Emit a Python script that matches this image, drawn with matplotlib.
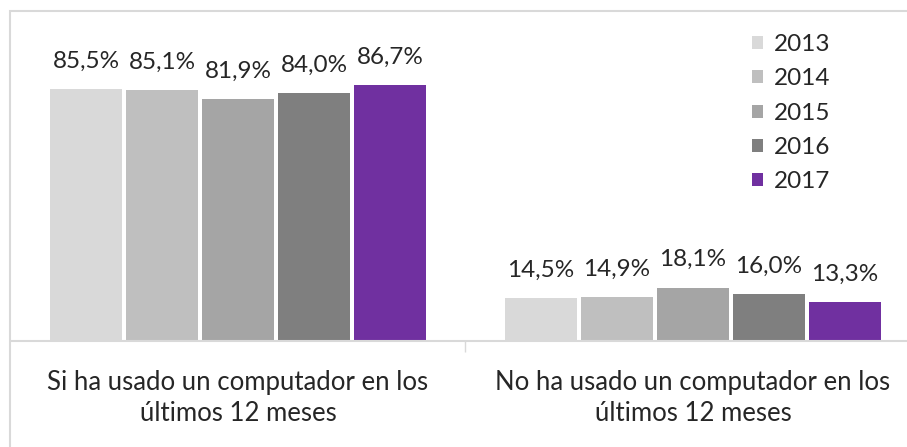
import matplotlib
matplotlib.use("Agg")
import matplotlib.pyplot as plt
from matplotlib.patches import Rectangle
import numpy as np

plt.rcParams['font.family'] = ['Lato', 'DejaVu Sans']

categories = ["Si ha usado un computador en los\núltimos 12 meses",
              "No ha usado un computador en los\núltimos 12 meses"]
years = ["2013", "2014", "2015", "2016", "2017"]
values = {
    "2013": [85.5, 14.5],
    "2014": [85.1, 14.9],
    "2015": [81.9, 18.1],
    "2016": [84.0, 16.0],
    "2017": [86.7, 13.3],
}
labels = {
    "2013": ["85,5%", "14,5%"],
    "2014": ["85,1%", "14,9%"],
    "2015": ["81,9%", "18,1%"],
    "2016": ["84,0%", "16,0%"],
    "2017": ["86,7%", "13,3%"],
}
colors = ["#d9d9d9", "#bfbfbf", "#a5a5a5", "#7f7f7f", "#7030a0"]

W, H = 907, 447
fig = plt.figure(figsize=(W / 100, H / 100), dpi=100)

# outer chart border (cropped at right/bottom)
fig.patches.append(Rectangle((10 / W, -0.1), 1.2, (H - 11) / H + 0.1,
                             transform=fig.transFigure, fill=False,
                             edgecolor="#d9d9d9", linewidth=1.5))

ax = fig.add_axes([10.5 / W, (H - 341) / H, 910 / W, 330 / H])
ax.set_xlim(-0.5, 1.5)
ax.set_ylim(0, 330 / 2.95)

x = np.arange(len(categories))
step = 76 / 455
bw = 72 / 455
txtc = "#262626"
fs = 17.5
for i, (yr, c) in enumerate(zip(years, colors)):
    pos = x + (i - 2) * step
    bars = ax.bar(pos, values[yr], width=bw, color=c, label=yr, zorder=2)
    for b, lab in zip(bars, labels[yr]):
        ax.annotate(lab, (b.get_x() + b.get_width() / 2, b.get_height()),
                    xytext=(0, 12.5), textcoords="offset points",
                    ha="center", va="bottom", fontsize=fs, color=txtc)

for s in ["top", "left", "right"]:
    ax.spines[s].set_visible(False)
ax.spines["bottom"].set_color("#d9d9d9")
ax.spines["bottom"].set_linewidth(1.5)
ax.set_yticks([])
ax.set_xticks(x)
ax.set_xticklabels(categories, fontsize=18.5, color=txtc, linespacing=1.3)
ax.tick_params(axis="x", which="major", length=0, pad=21)
ax.set_xticks([0.5], minor=True)
ax.tick_params(axis="x", which="minor", length=8, width=1, color="#d9d9d9",
               direction="out")

leg = ax.legend(loc="upper left", bbox_to_anchor=(752 / W, 1 - 34 / H),
                bbox_transform=fig.transFigure, frameon=False, fontsize=fs,
                handlelength=0.45, handleheight=0.45, handletextpad=0.45,
                labelspacing=0.55, borderpad=0, borderaxespad=0)
for t in leg.get_texts():
    t.set_color(txtc)

fig.savefig("out.png", dpi=100)
